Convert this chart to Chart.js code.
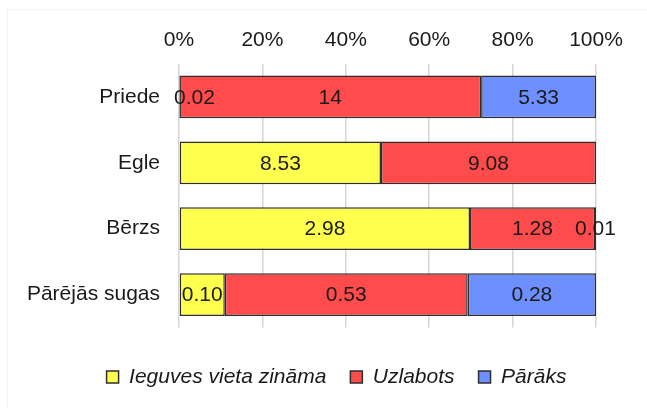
<!DOCTYPE html>
<html>
<head>
<meta charset="utf-8">
<script src="https://cdn.jsdelivr.net/npm/chart.js@4/dist/chart.umd.min.js"></script>
<style>
  body { margin: 0; background: #fff; }
  canvas { display: block; }
</style>
</head>
<body>
<canvas id="canvas" width="647" height="408"></canvas>
<script>
var categories = ['Priede', 'Egle', 'Bērzs', 'Pārējās sugas'];
var seriesNames = ['Ieguves vieta zināma', 'Uzlabots', 'Pārāks'];
var known = [0.02, 8.53, 2.98, 0.10];
var improved = [14, 9.08, 1.28, 0.53];
var superior = [5.33, null, 0.01, 0.28];
var percentTicks = [0, 20, 40, 60, 80, 100];

var colors = ['#ffff4d', '#ff4b4b', '#6e8fff'];
var series = [known, improved, superior];

var totals = categories.map(function (c, i) {
    return series.reduce(function (s, arr) { return s + (arr[i] || 0); }, 0);
});

function fmt(v) {
    return Number.isInteger(v) ? String(v) : v.toFixed(2);
}

// labels with the real values in the middle of each piece
var valueLabels = {
    id: 'valueLabels',
    afterDatasetsDraw: function (chart) {
        var ctx = chart.ctx;
        var area = chart.chartArea;
        ctx.save();
        ctx.font = '21px "Liberation Sans"';
        ctx.fillStyle = '#1a1a1a';
        ctx.textAlign = 'center';
        ctx.textBaseline = 'middle';
        chart.data.datasets.forEach(function (ds, di) {
            var meta = chart.getDatasetMeta(di);
            meta.data.forEach(function (bar, i) {
                var v = ds.rawValues[i];
                if (v == null) return;
                var t = fmt(v);
                var w = ctx.measureText(t).width;
                var x = (bar.x + bar.base) / 2;
                x = Math.max(x, area.left - 5 + w / 2);
                ctx.fillText(t, x, bar.y + 1);
            });
        });
        ctx.restore();
    }
};

// background + faint outer frame, and nudge legend to the right
var frame = {
    id: 'frame',
    afterLayout: function (chart) {
        chart.legend.left += 31;
        chart.legend.right += 31;
    },
    beforeDraw: function (chart) {
        var ctx = chart.ctx;
        ctx.save();
        ctx.fillStyle = '#fff';
        ctx.fillRect(0, 0, chart.width, chart.height);
        ctx.strokeStyle = '#f3f3f3';
        ctx.lineWidth = 1;
        ctx.strokeRect(7.5, 9.5, chart.width, chart.height);
        ctx.restore();
    }
};

var ctx = document.getElementById('canvas').getContext('2d');
var myChart = new Chart(ctx, {
    type: 'bar',
    data: {
        labels: categories,
        datasets: series.map(function (arr, k) {
            return {
                label: seriesNames[k],
                data: arr.map(function (v, i) { return v == null ? null : v / totals[i] * 100; }),
                rawValues: arr,
                backgroundColor: colors[k],
                borderColor: '#2e2e2e',
                borderWidth: 1.5,
                borderSkipped: false,
                barPercentage: 1,
                categoryPercentage: 0.65
            };
        })
    },
    options: {
        indexAxis: 'y',
        responsive: false,
        devicePixelRatio: 1,
        animation: false,
        layout: { padding: { left: 15, right: 51, top: 0, bottom: 10.5 } },
        scales: {
            x: {
                position: 'top',
                stacked: true,
                min: 0,
                max: 100,
                afterBuildTicks: function (scale) {
                    scale.ticks = percentTicks.map(function (v) { return { value: v }; });
                },
                afterFit: function (scale) { scale.height = 64; },
                ticks: {
                    padding: 11,
                    color: '#1a1a1a',
                    font: { family: 'Liberation Sans', size: 21 },
                    callback: function (v) { return v + '%'; }
                },
                grid: { color: '#d6d6d6', lineWidth: 1.5, drawTicks: false },
                border: { display: false }
            },
            // empty spacer between plot and legend
            x2: {
                type: 'linear',
                axis: 'x',
                position: 'bottom',
                afterFit: function (scale) { scale.height = 15; },
                ticks: { display: false },
                grid: { display: false },
                border: { display: false }
            },
            y: {
                stacked: true,
                afterFit: function (scale) { scale.width = 164; },
                ticks: {
                    padding: 19,
                    color: '#1a1a1a',
                    font: { family: 'Liberation Sans', size: 21 }
                },
                grid: { display: false, drawTicks: false },
                border: { display: false }
            }
        },
        plugins: {
            legend: {
                position: 'bottom',
                labels: {
                    boxWidth: 12,
                    boxHeight: 12,
                    padding: 24,
                    color: '#1a1a1a',
                    font: { family: 'Liberation Sans', size: 21, style: 'italic' }
                }
            },
            tooltip: { enabled: false }
        }
    },
    plugins: [frame, valueLabels]
});
</script>
</body>
</html>
